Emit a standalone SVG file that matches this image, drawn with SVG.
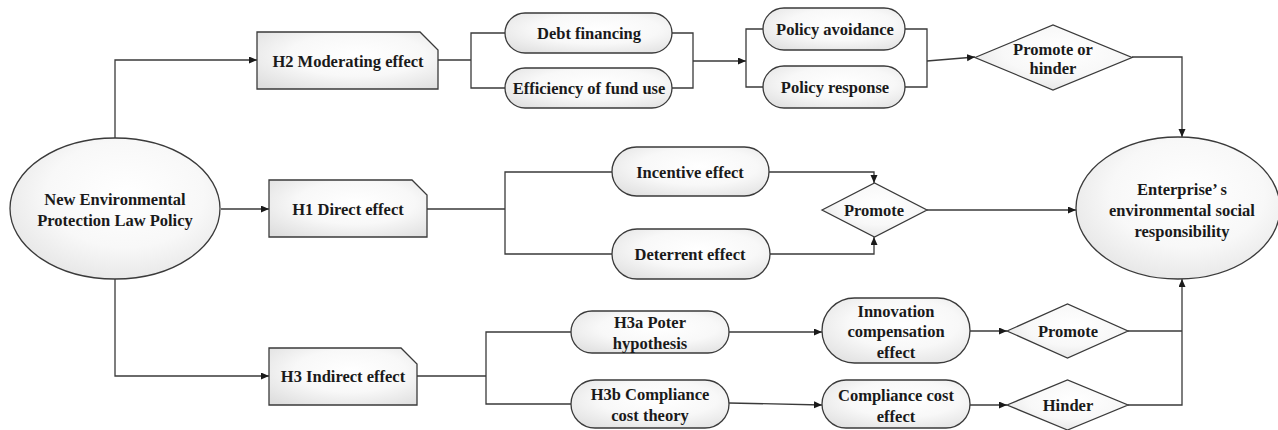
<svg xmlns="http://www.w3.org/2000/svg" width="1278" height="430" viewBox="0 0 1278 430">
<style>
.s{stroke:#3a3a3a;stroke-width:1.3;fill:url(#g)}
.c{stroke:#3a3a3a;stroke-width:1.3;fill:none}
.a{marker-end:url(#ar)}
text{font-family:"Liberation Serif","Times New Roman",serif;font-weight:bold;font-size:16.5px;fill:#1a1a1a;text-anchor:middle}
</style>
<defs>
<radialGradient id="g" cx="0.55" cy="0.4" r="0.75">
<stop offset="0" stop-color="#ffffff"/>
<stop offset="0.5" stop-color="#f8f8f8"/>
<stop offset="1" stop-color="#dedede"/>
</radialGradient>
<marker id="ar" markerWidth="9" markerHeight="8" refX="8" refY="3.5" orient="auto" markerUnits="userSpaceOnUse">
<path d="M0,0 L8,3.5 L0,7 z" fill="#1a1a1a"/>
</marker>
</defs>
<rect width="1278" height="430" fill="#ffffff"/>
<g id="connectors">
<path class="c a" d="M115,138 V60 H257"/>
<path class="c a" d="M221,209 H269"/>
<path class="c a" d="M115,279 V376 H269"/>
<path class="c" d="M438,60 H471 M505,33 H471 V88 H505"/>
<path class="c" d="M672,33 H693 V88 H672"/>
<path class="c a" d="M693,61 H746"/>
<path class="c" d="M763,29 H746 V87 H763"/>
<path class="c" d="M905,29 H927 V87 H905"/>
<path class="c a" d="M927,61 L975,57"/>
<path class="c a" d="M1132,57 H1182 V137"/>
<path class="c" d="M427,209 H505 M612,172 H505 V254 H612"/>
<path class="c a" d="M769,172 H874 V183"/>
<path class="c a" d="M770,254 H874 V237"/>
<path class="c a" d="M927,210 H1076"/>
<path class="c" d="M417,376 H486 M571,332 H486 V404 H571"/>
<path class="c a" d="M729,332 H822"/>
<path class="c a" d="M729,403 L822,405"/>
<path class="c a" d="M970,331 H1007"/>
<path class="c a" d="M970,405 H1007"/>
<path class="c" d="M1128,331 H1182"/>
<path class="c a" d="M1128,405 H1182 V279"/>
</g>
<g id="policy">
<ellipse class="s" cx="115" cy="208.5" rx="105" ry="70.5"/>
<text x="115" y="205">New Environmental</text>
<text x="115" y="226">Protection Law Policy</text>
</g>
<g id="h2">
<path class="s" d="M257,32 H420 L438,50 V89 H257 Z"/>
<text x="348" y="67">H2 Moderating effect</text>
</g>
<g id="h1">
<path class="s" d="M269,180 H412 L427,195 V237 H269 Z"/>
<text x="348" y="215">H1 Direct effect</text>
</g>
<g id="h3">
<path class="s" d="M269,348 H401 L417,364 V405 H269 Z"/>
<text x="343" y="382">H3 Indirect effect</text>
</g>
<g id="debt">
<rect class="s" x="505" y="13" width="167" height="40" rx="20"/>
<text x="589" y="39">Debt financing</text>
</g>
<g id="efficiency">
<rect class="s" x="505" y="68" width="167" height="40" rx="20"/>
<text x="589" y="94">Efficiency of fund use</text>
</g>
<g id="avoidance">
<rect class="s" x="763" y="8" width="142" height="42" rx="21"/>
<text x="835" y="35">Policy avoidance</text>
</g>
<g id="response">
<rect class="s" x="763" y="66" width="142" height="42" rx="21"/>
<text x="835" y="93">Policy response</text>
</g>
<g id="promote-hinder">
<path class="s" d="M975,57.5 L1053,25 L1132,57.5 L1053,90 Z"/>
<text x="1053" y="55">Promote or</text>
<text x="1053" y="74">hinder</text>
</g>
<g id="incentive">
<rect class="s" x="612" y="147" width="157" height="49" rx="24.5"/>
<text x="690" y="178">Incentive effect</text>
</g>
<g id="deterrent">
<rect class="s" x="612" y="229" width="158" height="50" rx="25"/>
<text x="690" y="260">Deterrent effect</text>
</g>
<g id="promote-mid">
<path class="s" d="M822,210 L874.5,183 L927,210 L874.5,237 Z"/>
<text x="874" y="216">Promote</text>
</g>
<g id="esr">
<ellipse class="s" cx="1178" cy="208" rx="102" ry="71"/>
<text x="1182" y="195">Enterprise’ s</text>
<text x="1182" y="216">environmental social</text>
<text x="1182" y="237">responsibility</text>
</g>
<g id="h3a">
<rect class="s" x="571" y="311" width="158" height="42" rx="21"/>
<text x="650" y="328">H3a Poter</text>
<text x="650" y="349">hypothesis</text>
</g>
<g id="h3b">
<rect class="s" x="571" y="380" width="158" height="48" rx="24"/>
<text x="650" y="400">H3b Compliance</text>
<text x="650" y="421">cost theory</text>
</g>
<g id="innovation">
<rect class="s" x="822" y="298" width="148" height="65" rx="32.5"/>
<text x="896" y="317">Innovation</text>
<text x="896" y="337">compensation</text>
<text x="896" y="358">effect</text>
</g>
<g id="compliance-effect">
<rect class="s" x="822" y="380" width="148" height="48" rx="24"/>
<text x="896" y="401">Compliance cost</text>
<text x="896" y="422">effect</text>
</g>
<g id="promote-low">
<path class="s" d="M1007,331 L1067.5,304 L1128,331 L1067.5,358 Z"/>
<text x="1068" y="337">Promote</text>
</g>
<g id="hinder">
<path class="s" d="M1007,405 L1067.5,380 L1128,405 L1067.5,430 Z"/>
<text x="1068" y="411">Hinder</text>
</g>
</svg>
